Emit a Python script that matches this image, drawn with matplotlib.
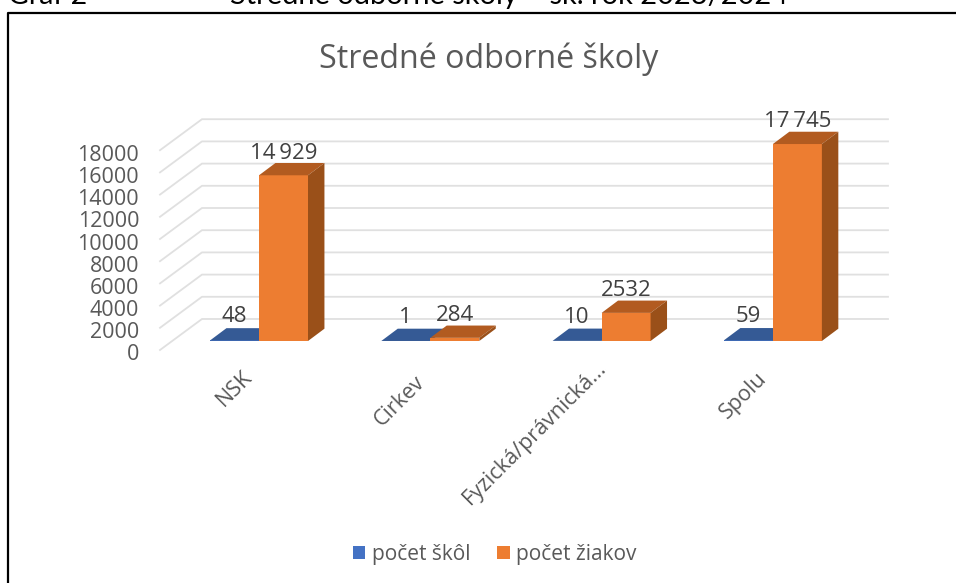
import matplotlib
matplotlib.use("Agg")
import matplotlib.pyplot as plt
from matplotlib.lines import Line2D
from matplotlib.patches import Patch, Polygon

plt.rcParams['font.family'] = ['Open Sans', 'DejaVu Sans']

categories = ["NSK", "Cirkev", "Fyzická/právnická...", "Spolu"]
pocet_skol = [48, 1, 10, 59]
pocet_ziakov = [14929, 284, 2532, 17745]
skoly_labels = ["48", "1", "10", "59"]
ziaci_labels = ["14\u2009929", "284", "2532", "17\u2009745"]
y_ticks = [0, 2000, 4000, 6000, 8000, 10000, 12000, 14000, 16000, 18000]

W, H = 956, 583
TEXT = "#595959"
GRID = "#E0E0E0"

# 3d look, everything in data units
bar_w = 0.286
depth_x = 0.096
depth_y = 1108
front_y = -811
back_y = 1982
x_front = -0.578
x_back = -0.333
x_end = 3.672

# the rotated labels do not sit evenly in the original, nudge each one (points)
label_nudge = [(-2.1, 1.5), (-1.3, -2.1), (5.8, 7.8), (-1.8, 0.7)]


def draw_bar(x, v, front, top, side):
    ax.bar(x, v, width=bar_w, align='edge', color=front, linewidth=0, zorder=3)
    ax.add_patch(Polygon([(x, v), (x + bar_w, v), (x + bar_w + depth_x, v + depth_y), (x + depth_x, v + depth_y)],
                         closed=True, facecolor=top, edgecolor='none', zorder=3))
    ax.add_patch(Polygon([(x + bar_w, 0), (x + bar_w + depth_x, depth_y), (x + bar_w + depth_x, v + depth_y), (x + bar_w, v)],
                         closed=True, facecolor=side, edgecolor='none', zorder=3))


fig = plt.figure(figsize=(W / 100, H / 100), dpi=100)
ax = fig.add_axes([160 / W, (H - 350) / H, (888 - 160) / W, (350 - 119) / H])
ax.set_xlim(x_front, x_end)
ax.set_ylim(front_y, 20000)
ax.axis('off')

for v in y_ticks:
    ax.plot([x_front, x_back, x_end], [v + front_y, v + back_y, v + back_y],
            color=GRID, lw=1.3, zorder=1, clip_on=False)
    ax.annotate(str(v), (-0.70, v + front_y), xytext=(0, -3.6), textcoords='offset points',
                ha='right', va='center', fontsize=15.5, color=TEXT, annotation_clip=False)

for i, cat in enumerate(categories):
    draw_bar(i - bar_w, pocet_skol[i], "#4472C4", "#355A95", "#2F5089")
    draw_bar(i, pocet_ziakov[i], "#ED7D31", "#B25B20", "#9A5019")
    ax.annotate(skoly_labels[i], (i - bar_w / 2, pocet_skol[i]), xytext=(0, 17), textcoords='offset points',
                ha='center', va='center', fontsize=16, color="#404040", zorder=4)
    ax.annotate(ziaci_labels[i], (i + bar_w / 2, pocet_ziakov[i]), xytext=(0, 16), textcoords='offset points',
                ha='center', va='center', fontsize=16, color="#404040", zorder=4)
    ax.annotate(cat, (i - 0.04, -3150), xytext=label_nudge[i], textcoords='offset points',
                rotation=45, rotation_mode='anchor', ha='right', va='center', fontsize=15.5, color=TEXT,
                annotation_clip=False)

fig.text(489 / W, (H - 59) / H, "Stredné odborné školy", ha='center', va='center', fontsize=23.2, color=TEXT)

handles = [Patch(facecolor="#4472C4", label="počet škôl"), Patch(facecolor="#ED7D31", label="počet žiakov")]
fig.legend(handles=handles, loc='center', bbox_to_anchor=(494.5 / W, (H - 554.5) / H), ncol=2, frameon=False,
           fontsize=15, labelcolor=TEXT, handlelength=0.62, handleheight=0.62, handletextpad=0.29, columnspacing=1.3)

# black frame and the caption cut off above it
fig.add_artist(Line2D([8 / W, 8 / W, 1], [0, (H - 13) / H, (H - 13) / H], color='black', lw=1.6))
fig.text(8 / W, (H - 4) / H, "Graf 2", family=['Lato', 'DejaVu Sans'], fontsize=20.5, color='black', va='baseline')
fig.text(230 / W, (H - 4) / H, "Stredné odborné školy – šk. rok 2023/2024", family=['Lato', 'DejaVu Sans'],
         fontsize=20.9, color='black', va='baseline')

fig.savefig("out.png", dpi=100)
